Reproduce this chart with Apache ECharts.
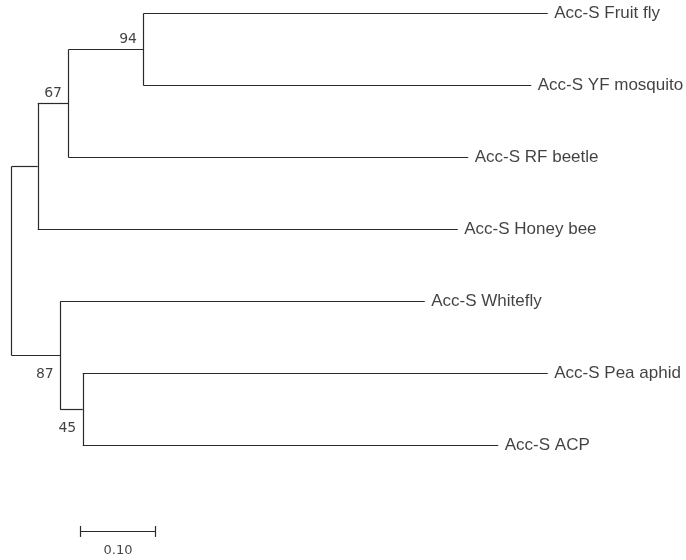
<!DOCTYPE html>
<html>
<head>
<meta charset="utf-8">
<script src="https://cdn.jsdelivr.net/npm/echarts@6/dist/echarts.min.js"></script>
<style>
  html, body { margin: 0; padding: 0; background: #fff; }
  #tree { width: 686px; height: 560px; }
</style>
</head>
<body>
<div id="tree"></div>
<script>
// leaves, top to bottom, with their distance from the root
const taxa = ['Acc-S Fruit fly', 'Acc-S YF mosquito', 'Acc-S RF beetle', 'Acc-S Honey bee',
              'Acc-S Whitefly', 'Acc-S Pea aphid', 'Acc-S ACP'];
const taxonDepth = [0.715, 0.693, 0.609, 0.595, 0.551, 0.715, 0.649];

// internal nodes: children are t<i> (taxon) or n<i> (node)
const nodeKids = [['t0', 't1'], ['n0', 't2'], ['n1', 't3'], ['t5', 't6'], ['t4', 'n3'], ['n2', 'n4']];
const nodeDepth = [0.176, 0.076, 0.035, 0.095, 0.065, 0];
const bootstrap = [94, 67, null, 45, 87, null];
const bootSide = ['above', 'above', null, 'below', 'below', null];

const scaleLen = 0.10;
const scaleLabel = '0.10';

const lineColor = '#2a2a2a';
const textColor = '#111';

// position of a taxon / node in (distance, row) units
function pos(id) {
  let i = +id.slice(1);
  if (id[0] === 't') return [taxonDepth[i], i];
  let kids = nodeKids[i].map(pos);
  let y = kids.reduce((s, k) => s + k[1], 0) / kids.length;
  return [nodeDepth[i], y];
}

let segs = [];
nodeKids.forEach((kids, i) => {
  let p = kids.map(pos);
  let ys = p.map(k => k[1]);
  segs.push({ coords: [[nodeDepth[i], Math.min(...ys)], [nodeDepth[i], Math.max(...ys)]] });
  p.forEach(k => segs.push({ coords: [[nodeDepth[i], k[1]], [k[0], k[1]]] }));
});

// scale bar, below the tree
const sbX = 0.092, sbY = 7.194, sbTick = 0.076;
segs.push({ coords: [[sbX, sbY], [sbX + scaleLen, sbY]] });
segs.push({ coords: [[sbX, sbY - sbTick], [sbX, sbY + sbTick]] });
segs.push({ coords: [[sbX + scaleLen, sbY - sbTick], [sbX + scaleLen, sbY + sbTick]] });

let leafPts = taxa.map((name, i) => ({ value: [taxonDepth[i], i], name: name }));

let bootPts = [];
bootstrap.forEach((b, i) => {
  if (b == null) return;
  bootPts.push({
    value: pos('n' + i),
    name: String(b),
    label: { offset: bootSide[i] === 'above' ? [0, -10] : [0, 19] }
  });
});

let myChart = echarts.init(document.getElementById('tree'));
let option = {
  animation: false,
  grid: { left: 11.5, top: 13.5, width: 600, height: 432 },
  xAxis: { type: 'value', min: 0, max: 0.8, show: false },
  yAxis: { type: 'value', min: 0, max: 6, inverse: true, show: false },
  series: [{
    type: 'lines',
    coordinateSystem: 'cartesian2d',
    clip: false,
    silent: true,
    lineStyle: { color: lineColor, width: 1.2, opacity: 1, curveness: 0 },
    data: segs
  }, {
    type: 'scatter',
    clip: false,
    silent: true,
    symbolSize: 1,
    itemStyle: { color: 'transparent' },
    label: {
      show: true, position: 'right', distance: 6,
      formatter: p => p.name,
      fontFamily: 'Liberation Sans', fontSize: 17, color: textColor
    },
    data: leafPts
  }, {
    type: 'scatter',
    clip: false,
    silent: true,
    symbolSize: 1,
    itemStyle: { color: 'transparent' },
    label: {
      show: true, position: 'left', distance: 6,
      formatter: p => p.name,
      fontFamily: 'DejaVu Sans', fontSize: 14, color: textColor
    },
    data: bootPts
  }, {
    type: 'scatter',
    clip: false,
    silent: true,
    symbolSize: 1,
    itemStyle: { color: 'transparent' },
    label: {
      show: true, position: 'inside', offset: [0, 19],
      formatter: p => p.name,
      fontFamily: 'DejaVu Sans', fontSize: 13, color: textColor
    },
    data: [{ value: [sbX + scaleLen / 2, sbY], name: scaleLabel }]
  }]
};
myChart.setOption(option);
</script>
</body>
</html>
